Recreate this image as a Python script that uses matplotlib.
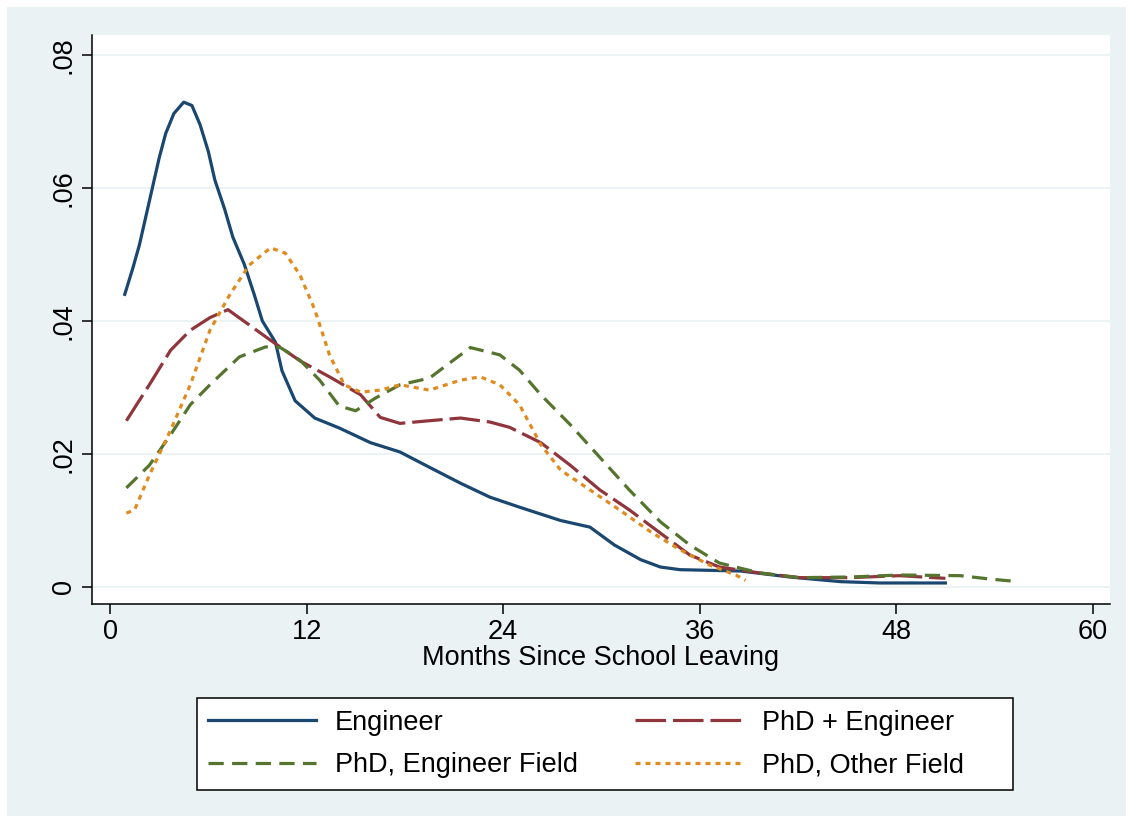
import matplotlib
matplotlib.use("Agg")
import matplotlib.pyplot as plt
from matplotlib.patches import Rectangle

plt.rcParams['font.family'] = ['Liberation Sans', 'DejaVu Sans']
plt.rcParams['lines.scale_dashes'] = False

# ---- data ----
eng_x = [0.9, 1.4, 1.8, 2.4, 3.0, 3.4, 3.9, 4.5, 5.0, 5.5, 6.0, 6.4, 7.0, 7.5, 8.2, 8.8, 9.3,
         10.1, 10.5, 11.3, 12.5, 14.0, 15.9, 17.7, 19.5, 21.4, 23.2, 25.0, 27.5, 29.3, 30.8,
         32.4, 33.6, 34.8, 38.5, 41.5, 44.6, 47.0, 51.0]
eng_y = [0.0440, 0.0480, 0.0515, 0.0580, 0.0645, 0.0682, 0.0712, 0.0729, 0.0724, 0.0695, 0.0655,
         0.0612, 0.0568, 0.0526, 0.0485, 0.0440, 0.0400, 0.0368, 0.0325, 0.0280, 0.0254, 0.0239,
         0.0217, 0.0203, 0.0180, 0.0156, 0.0135, 0.0120, 0.0100, 0.0090, 0.0063, 0.0041, 0.0030,
         0.0026, 0.0024, 0.0015, 0.0008, 0.0006, 0.0006]

phe_x = [1.0, 2.4, 3.7, 4.9, 6.1, 7.2, 8.5, 9.8, 11.6, 13.4, 15.3, 16.5, 17.7, 19.5, 21.4,
         23.2, 24.4, 26.3, 28.1, 29.9, 31.7, 33.6, 35.4, 37.2, 39.7, 42.1, 45.2, 48.2, 51.0]
phe_y = [0.0250, 0.0304, 0.0356, 0.0386, 0.0405, 0.0417, 0.0394, 0.0371, 0.0340, 0.0316, 0.0289,
         0.0255, 0.0246, 0.0250, 0.0254, 0.0248, 0.0240, 0.0217, 0.0183, 0.0146, 0.0116, 0.0081,
         0.0048, 0.0030, 0.0021, 0.0014, 0.0014, 0.0017, 0.0013]

pef_x = [1.0, 2.4, 3.7, 4.9, 6.1, 7.9, 9.5, 10.4, 11.6, 12.8, 14.0, 15.0, 16.2, 17.7, 19.5,
         20.8, 22.0, 23.8, 25.0, 26.3, 28.1, 29.9, 31.7, 33.6, 35.4, 37.2, 39.7, 42.1, 45.2,
         48.2, 51.9, 53.7, 55.0]
pef_y = [0.0149, 0.0183, 0.0229, 0.0274, 0.0304, 0.0346, 0.0361, 0.0360, 0.0341, 0.0311, 0.0272,
         0.0265, 0.0284, 0.0304, 0.0314, 0.0338, 0.0360, 0.0349, 0.0326, 0.0289, 0.0244, 0.0195,
         0.0146, 0.0098, 0.0063, 0.0036, 0.0021, 0.0014, 0.0015, 0.0018, 0.0017, 0.0012, 0.0009]

pof_x = [1.0, 1.5, 2.4, 3.7, 4.9, 6.1, 7.3, 8.5, 9.8, 10.7, 11.6, 12.5, 13.4, 14.3, 15.3, 16.5,
         17.7, 19.5, 21.4, 22.6, 23.8, 25.0, 26.3, 27.5, 29.3, 31.1, 33.0, 34.8, 36.6, 38.2, 38.8]
pof_y = [0.0111, 0.0116, 0.0168, 0.0236, 0.0304, 0.0386, 0.0439, 0.0484, 0.0510, 0.0502, 0.0469,
         0.0417, 0.0349, 0.0304, 0.0293, 0.0296, 0.0304, 0.0296, 0.0311, 0.0316, 0.0304, 0.0274,
         0.0214, 0.0176, 0.0146, 0.0116, 0.0083, 0.0056, 0.0033, 0.0018, 0.0010]

labels = ["Engineer", "PhD + Engineer", "PhD, Engineer Field", "PhD, Other Field"]
x_ticks = [0, 12, 24, 36, 48, 60]
y_ticks = [0, 0.02, 0.04, 0.06, 0.08]
y_tick_labels = ["0", ".02", ".04", ".06", ".08"]
x_title = "Months Since School Leaving"

# ---- figure ----
W, H = 1133, 823
fig = plt.figure(figsize=(W / 100, H / 100), dpi=100)
fig.patch.set_facecolor("white")
m = 7
fig.add_artist(Rectangle((m / W, m / H), 1 - 2 * m / W, 1 - 2 * m / H,
                         transform=fig.transFigure, facecolor="#eaf2f3",
                         edgecolor="none", zorder=-10))

ax = fig.add_axes([92 / W, 1 - 604 / H, (1110 - 92) / W, (604 - 35) / H])
ax.set_facecolor("white")

fs = 19.5
lw = 2.3
l1, = ax.plot(eng_x, eng_y, color="#1a476f", lw=lw, solid_joinstyle="round")
l2, = ax.plot(phe_x, phe_y, color="#90353b", lw=lw, dashes=(22, 5))
l3, = ax.plot(pef_x, pef_y, color="#55752f", lw=lw, dashes=(11, 6))
l4, = ax.plot(pof_x, pof_y, color="#e08b1e", lw=lw, dashes=(3.6, 3.6))

ax.set_xlim(-1.1, 61.05)
ax.set_ylim(-0.00256, 0.0830)
ax.set_xticks(x_ticks)
ax.set_xticklabels([str(t) for t in x_ticks], fontsize=fs)
ax.set_yticks(y_ticks)
ax.set_yticklabels(y_tick_labels, fontsize=fs, rotation=90, va="center")
ax.tick_params(axis="both", direction="out", length=7, width=1.1, color="black", pad=4)
ax.grid(axis="y", color="#eaf2f3", lw=1.3)
ax.set_axisbelow(True)
for s in ["top", "right"]:
    ax.spines[s].set_visible(False)
for s in ["left", "bottom"]:
    ax.spines[s].set_linewidth(1.1)
ax.set_xlabel(x_title, fontsize=fs, labelpad=0)

# legend box (drawn as its own frame) and legend entries filled row by row
bx0, bx1, by0, by1 = 197, 1013, 698, 790
fig.add_artist(Rectangle((bx0 / W, 1 - by1 / H), (bx1 - bx0) / W, (by1 - by0) / H,
                         transform=fig.transFigure, facecolor="white",
                         edgecolor="black", lw=1.1, zorder=1))
handles = [l1, l3, l2, l4]
leg_labels = [labels[0], labels[2], labels[1], labels[3]]
leg = fig.legend(handles, leg_labels, ncol=2, fontsize=fs,
                 loc="center left", borderaxespad=0,
                 bbox_to_anchor=(bx0 / W, 1 - (by0 + by1) / 2 / H),
                 bbox_transform=fig.transFigure,
                 handlelength=4.0, handletextpad=0.7, labelspacing=0.6,
                 columnspacing=2.1, borderpad=0.4, frameon=False)
leg.set_zorder(2)

fig.savefig("out.png", dpi=100, facecolor=fig.get_facecolor())
